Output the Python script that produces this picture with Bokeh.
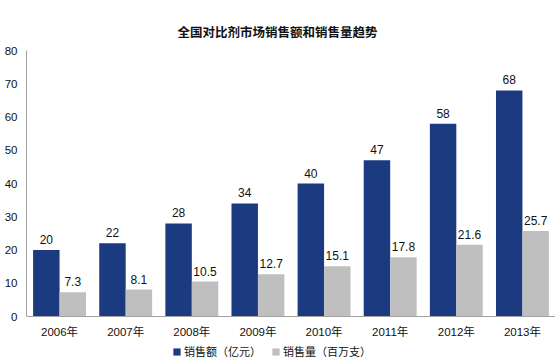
from bokeh.plotting import figure
from bokeh.models import (ColumnDataSource, FactorRange, Range1d, FixedTicker,
                          LabelSet, Legend, LegendItem)
from bokeh.core.properties import value
from bokeh.transform import dodge
from bokeh.embed import file_html
from bokeh.resources import INLINE

years = ["2006年", "2007年", "2008年", "2009年", "2010年", "2011年", "2012年", "2013年"]
sales_value = [20, 22, 28, 34, 40, 47, 58, 68]          # 销售额（亿元）
sales_volume = [7.3, 8.1, 10.5, 12.7, 15.1, 17.8, 21.6, 25.7]  # 销售量（百万支）
y_ticks = [0, 10, 20, 30, 40, 50, 60, 70, 80]

title_text = "全国对比剂市场销售额和销售量趋势"
series_names = ["销售额（亿元）", "销售量（百万支）"]

BLUE = "#1C3A80"
GRAY = "#BFBFBF"
TXT = "#111111"
FONT = "'Liberation Sans', 'Noto Sans CJK SC'"

W, H = 555, 363
TOP, LEFT = 50, 26          # frame top / left in px
ZERO_PX = 316               # pixel row of value 0
Y_MAX = 80
# extend the frame down to the canvas bottom so the legend below the axis is not clipped
y_start = -Y_MAX * (H - ZERO_PX) / (ZERO_PX - TOP)

src = ColumnDataSource(dict(
    year=years,
    v=sales_value,
    q=sales_volume,
    vlab=[str(x) for x in sales_value],
    qlab=[str(x) for x in sales_volume],
))

p = figure(width=W, height=H, x_range=FactorRange(*years), y_range=Range1d(y_start, Y_MAX),
           output_backend="svg", toolbar_location=None,
           min_border_left=LEFT, min_border_right=0, min_border_top=TOP, min_border_bottom=0)

p.title.text = title_text
p.title.align = "left"
p.title.offset = 151
p.title.text_font = "Noto Sans CJK SC"
p.title.text_font_size = "12.5px"
p.title.text_font_style = "bold"
p.title.text_color = TXT
p.title.standoff = 20

r1 = p.vbar(x=dodge("year", -0.2, range=p.x_range), top="v", width=0.4, source=src,
            fill_color=BLUE, line_color=None)
r2 = p.vbar(x=dodge("year", 0.2, range=p.x_range), top="q", width=0.4, source=src,
            fill_color=GRAY, line_color=None)

for col, lab, off in (("v", "vlab", -0.2), ("q", "qlab", 0.2)):
    ls = LabelSet(x=dodge("year", off, range=p.x_range), y=col, text=lab, source=src,
                  text_align="center", text_baseline="bottom", y_offset=6,
                  text_font=value(FONT), text_font_size=value("12px"), text_color=TXT)
    p.add_layout(ls)

p.xgrid.visible = False
p.ygrid.visible = False
p.outline_line_color = None

p.yaxis.ticker = FixedTicker(ticks=y_ticks)
p.yaxis.bounds = (0, Y_MAX)
p.yaxis.axis_line_color = "#A0A0A0"
p.yaxis.major_tick_line_color = None
p.yaxis.minor_tick_line_color = None
p.yaxis.major_tick_out = 0
p.yaxis.major_tick_in = 0
p.yaxis.major_label_standoff = 9
p.yaxis.major_label_text_font = FONT
p.yaxis.major_label_text_font_size = "11.5px"
p.yaxis.major_label_text_color = TXT

p.xaxis.fixed_location = 0
p.xaxis.axis_line_color = "#A0A0A0"
p.xaxis.major_tick_line_color = None
p.xaxis.major_tick_out = 0
p.xaxis.major_tick_in = 0
p.xaxis.major_label_standoff = 9
p.xaxis.major_label_text_font = FONT
p.xaxis.major_label_text_font_size = "11.5px"
p.xaxis.major_label_text_color = TXT

legend = Legend(items=[LegendItem(label=series_names[0], renderers=[r1]),
                       LegendItem(label=series_names[1], renderers=[r2])],
                orientation="horizontal", location=(146, 4),
                border_line_color=None, background_fill_alpha=0,
                padding=0, margin=0, spacing=10, label_standoff=3,
                glyph_width=9, glyph_height=9, label_height=12,
                label_text_font="Noto Sans CJK SC", label_text_font_size="11px",
                label_text_color=TXT)
p.add_layout(legend, "center")

open("out.html", "w").write(file_html(p, INLINE))
